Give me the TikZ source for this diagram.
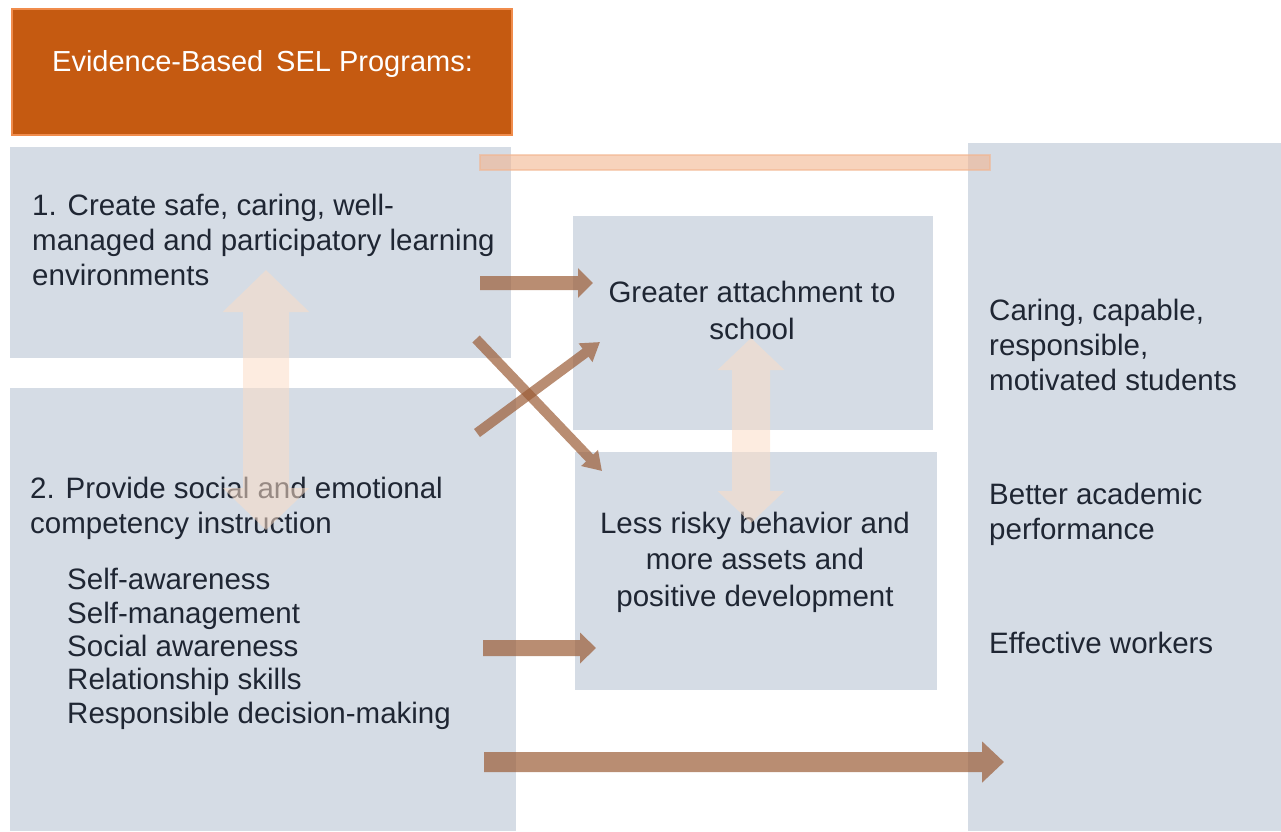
\documentclass[tikz,border=0pt]{standalone}
\usepackage{fontspec}
\setmainfont{Liberation Sans}
\usepackage{tikz}
\usetikzlibrary{arrows.meta,positioning}

\definecolor{selorange}{HTML}{C55A11}
\definecolor{selrim}{HTML}{F08C4C}
\definecolor{panelblue}{HTML}{D5DCE5}
\definecolor{ink}{HTML}{1F2633}
\definecolor{flowbrown}{RGB}{155,92,54}
\definecolor{linkpeach}{RGB}{251,221,199}
\definecolor{bandpeach}{RGB}{242,181,144}

\begin{document}
\begin{tikzpicture}[x=1pt, y=-1pt,
panel/.style={fill=panelblue, inner sep=0, anchor=north west},
txt/.style={font=\fontsize{29.5}{35}\selectfont, text=ink, align=left, inner sep=0, anchor=base west},
flow/.style={draw=flowbrown, line width=#1},
link/.style={draw=linkpeach, line width=#1}
]
\useasboundingbox (0,0) rectangle (1281,831);
%Nodes
\node[panel, fill=selorange, draw=selrim, line width=1.5, minimum width=500, minimum height=126] (head) at (11,8) {};
\node[panel, minimum width=501, minimum height=211] (prog1)   at (10,147)  {};
\node[panel, minimum width=506, minimum height=443] (prog2)   at (10,388)  {};
\node[panel, minimum width=360, minimum height=214] (attach)  at (573,216) {};
\node[panel, minimum width=362, minimum height=238] (risk)    at (575,452) {};
\node[panel, minimum width=313, minimum height=688] (outcome) at (968,143) {};

% base of a node with several lines = its last line
\node[txt, text=white, font=\fontsize{29}{35}\selectfont] (headtxt) at (52,71) {Evidence-Based\, SEL Programs:};
\node[txt] (prog1txt) at (32,285) {1. Create safe, caring, well-\\managed and participatory learning\\environments};
\node[txt] (prog2txt) at (30,533) {2. Provide social and emotional\\competency instruction};
\node[txt, font=\fontsize{29.5}{33.3}\selectfont] (skills) at (67,723) {Self-awareness\\Self-management\\Social awareness\\Relationship skills\\Responsible decision-making};
\node[txt, align=center, anchor=base, font=\fontsize{29.5}{37}\selectfont] (attachtxt) at (752,339) {Greater attachment to\\school};
\node[txt, align=center, anchor=base, font=\fontsize{29.5}{36.5}\selectfont] (risktxt) at (755,606) {Less risky behavior and\\more assets and\\positive development};
\node[txt] (caring)    at (989,390) {Caring, capable,\\responsible,\\motivated students};
\node[txt] (academic)  at (989,539) {Better academic\\performance};
\node[txt] (workers)   at (989,653) {Effective workers};

\coordinate (bandw) at (480,155);
\coordinate (bande) at (990,170);
\coordinate (a1s) at (480,283);  \coordinate (a1e) at (593,283);
\coordinate (x1s) at (476,339);  \coordinate (x1e) at (602,471);
\coordinate (x2s) at (477,433);  \coordinate (x2e) at (600,342);
\coordinate (a2s) at (483,648);  \coordinate (a2e) at (596,648);
\coordinate (a3s) at (484,762);  \coordinate (a3e) at (1004,762);
\coordinate (l1t) at (266,270);  \coordinate (l1b) at (266,530);
\coordinate (l2t) at (751,338);  \coordinate (l2b) at (751,523);
%Lines
\draw[bandpeach, fill=bandpeach, opacity=0.6, line width=1.5] (bandw) rectangle (bande);
\begin{scope}[transparency group, opacity=0.55]
\draw[link=46, {Triangle[width=84pt,length=42pt]}-{Triangle[width=84pt,length=42pt]}] (l1t) -- (l1b);
\draw[link=38, {Triangle[width=65pt,length=32pt]}-{Triangle[width=65pt,length=32pt]}] (l2t) -- (l2b);
\end{scope}
\begin{scope}[transparency group, opacity=0.7]
\draw[flow=14, -{Triangle[width=29pt,length=15pt]}] (a1s) -- (a1e);
\draw[flow=16, -{Triangle[width=30pt,length=16pt]}] (a2s) -- (a2e);
\draw[flow=20, -{Triangle[width=40pt,length=22pt]}] (a3s) -- (a3e);
\end{scope}
\begin{scope}[transparency group, opacity=0.7]
\draw[flow=10, -{Triangle[width=22pt,length=18pt]}] (x1s) -- (x1e);
\end{scope}
\begin{scope}[transparency group, opacity=0.7]
\draw[flow=10, -{Triangle[width=22pt,length=18pt]}] (x2s) -- (x2e);
\end{scope}
\end{tikzpicture}
\end{document}
